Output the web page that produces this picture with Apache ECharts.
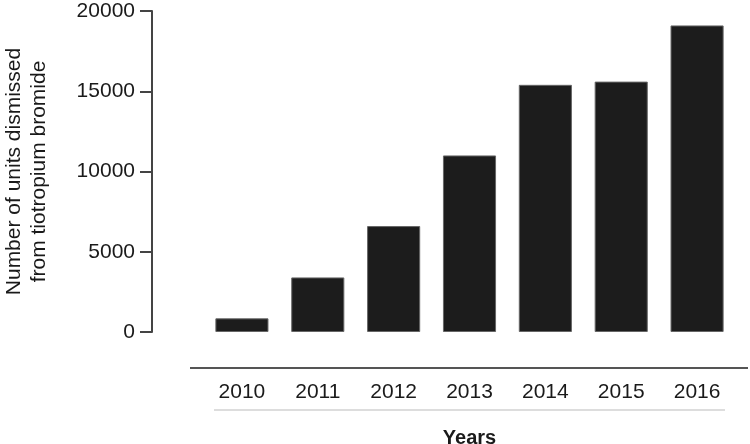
<!DOCTYPE html>
<html>
<head>
<meta charset="utf-8">
<script src="https://cdn.jsdelivr.net/npm/echarts@6/dist/echarts.min.js"></script>
<style>html,body{margin:0;padding:0;background:#fff}#c{width:750px;height:444px}</style>
</head>
<body>
<div id="c"></div>
<script>
var years = ['2010','2011','2012','2013','2014','2015','2016'];
var units = [850, 3400, 6600, 11000, 15400, 15600, 19100];
var yTicks = [0, 5000, 10000, 15000, 20000];

var FONT = '"Liberation Sans", Arial, sans-serif';
var chart = echarts.init(document.getElementById('c'), null, {renderer: 'canvas'});
chart.setOption({
  animation: false,
  backgroundColor: '#fff',
  grid: {left: 204, right: 15, top: 11, bottom: 112, containLabel: false, outerBoundsMode: 'none'},
  xAxis: {
    type: 'category',
    data: years,
    axisLine: {show: false},
    axisTick: {show: false},
    axisLabel: {margin: 50, fontSize: 21, color: '#1a1a1a', fontFamily: FONT},
    name: 'Years',
    nameLocation: 'middle',
    nameGap: 96,
    nameTextStyle: {fontSize: 20, fontWeight: 'bold', color: '#1a1a1a', fontFamily: FONT}
  },
  yAxis: {
    type: 'value',
    min: yTicks[0],
    max: yTicks[yTicks.length - 1],
    interval: 5000,
    offset: 52,
    splitLine: {show: false},
    axisLine: {show: true, lineStyle: {color: '#444', width: 2}},
    axisTick: {show: true, length: 12, lineStyle: {color: '#444', width: 2}},
    axisLabel: {margin: 17, fontSize: 21, color: '#1a1a1a', fontFamily: FONT,
      formatter: function (v) { return String(v); }},
    name: 'Number of units dismissed\nfrom tiotropium bromide',
    nameLocation: 'middle',
    nameGap: 100,
    nameTextStyle: {fontSize: 21, lineHeight: 25, color: '#1a1a1a', fontFamily: FONT, align: 'center'}
  },
  graphic: [
    {type: 'line', shape: {x1: 190, y1: 368, x2: 748, y2: 368}, style: {stroke: '#555', lineWidth: 2}},
    {type: 'line', shape: {x1: 214, y1: 410, x2: 725, y2: 410}, style: {stroke: '#ddd', lineWidth: 2}}
  ],
  series: [{
    type: 'bar',
    data: units,
    barWidth: '70%',
    itemStyle: {color: '#1c1c1c', borderColor: '#666', borderWidth: 1}
  }]
});
</script>
</body>
</html>
